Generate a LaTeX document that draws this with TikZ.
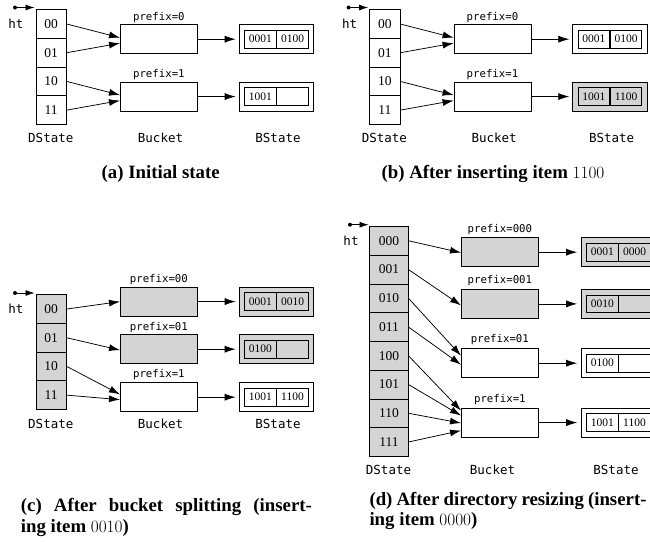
\documentclass[tikz,border=0pt]{standalone}
\usepackage[no-math]{fontspec}
\setmainfont{Liberation Serif}
\setmonofont{DejaVu Sans Mono}
\usetikzlibrary{arrows.meta,calc}
\definecolor{shade}{gray}{0.83}
\tikzset{
 box/.style={draw=black, line width=0.75pt, inner sep=0pt, anchor=north west},
 cellbox/.style={box, minimum width=30.3pt, minimum height=28.7pt, font=\fontsize{13.5}{14}\selectfont},
 wcell/.style={cellbox, minimum width=38.4pt, minimum height=28.75pt},
 bucketbox/.style={box, minimum width=77pt, minimum height=29pt},
 stout/.style={box, minimum width=74.6pt, minimum height=29pt},
 stin/.style={draw=black, line width=0.75pt, inner sep=0pt, minimum width=31.5pt, minimum height=17.7pt, font=\fontsize{11.5}{12}\selectfont},
 shaded/.style={fill=shade},
 pfx/.style={font=\ttfamily\fontsize{10.7}{11}\selectfont, inner sep=0pt},
 mono/.style={font=\ttfamily\fontsize{12.5}{13}\selectfont, inner sep=0pt},
 captext/.style={font=\bfseries\fontsize{18.8}{20}\selectfont, inner sep=0pt},
 arr/.style={-{Latex[length=11pt,width=7pt]}, line width=0.75pt},
 htdot/.style={circle, fill=black, inner sep=0pt, minimum size=4pt},
 htarr/.style={-{Latex[length=9pt,width=6pt]}, line width=0.75pt},
}
\begin{document}
\begin{tikzpicture}[x=1pt,y=-1pt]
\useasboundingbox (0,0) rectangle (650,541);

% ---------------- (a) ----------------
\node[htdot] (ahtS) at (15,7.5) {};
\coordinate (ahtE) at (34.5,7.5);
\draw[htarr] (ahtS.center) -- (ahtE);
\node[mono] (aht) at (16,24) {ht};
\node[cellbox] (a0) at (35.7,9.3) {00};
\node[cellbox] (a1) at (35.7,38) {01};
\node[cellbox] (a2) at (35.7,66.7) {10};
\node[cellbox] (a3) at (35.7,95.4) {11};
\node[bucketbox] (ab1) at (120,24.3) {};
\node[bucketbox] (ab2) at (120,81.7) {};
\node[pfx] (ap1) at ($(ab1.north)+(0,-7)$) {prefix=0};
\node[pfx] (ap2) at ($(ab2.north)+(0,-7.5)$) {prefix=1};
\node[stout] (as1) at (238.7,24.3) {};
\node[stin, anchor=east] (as1a) at (as1.center) {0001};
\node[stin, anchor=west] (as1b) at (as1.center) {0100};
\node[stout] (as2) at (238.7,81.7) {};
\node[stin, anchor=east] (as2a) at (as2.center) {1001};
\node[stin, anchor=west] (as2b) at (as2.center) {};
\draw[arr] (a0.east) -- ($(ab1.west)+(0,-1.5)$);
\draw[arr] (a1.east) -- ($(ab1.west)+(0,4)$);
\draw[arr] (a2.east) -- ($(ab2.west)+(0,-1.5)$);
\draw[arr] (a3.east) -- ($(ab2.west)+(0,4)$);
\draw[arr, shorten >=3pt] (ab1.east) -- (as1.west);
\draw[arr, shorten >=3pt] (ab2.east) -- (as2.west);
\node[mono] (ald) at (50.8,138) {DState};
\node[mono] (alb) at (160.5,138) {Bucket};
\node[mono] (als) at (278,138) {BState};
\node[captext] (acap) at (160.7,174) {(a) Initial state};

% ---------------- (b) ----------------
\begin{scope}[xshift=333.6pt]
\node[htdot] (bhtS) at (15,7.5) {};
\coordinate (bhtE) at (34.5,7.5);
\draw[htarr] (bhtS.center) -- (bhtE);
\node[mono] (bht) at (16,24) {ht};
\node[cellbox] (b0) at (35.7,9.3) {00};
\node[cellbox] (b1) at (35.7,38) {01};
\node[cellbox] (b2) at (35.7,66.7) {10};
\node[cellbox] (b3) at (35.7,95.4) {11};
\node[bucketbox] (bb1) at (120,24.3) {};
\node[bucketbox] (bb2) at (120,81.7) {};
\node[pfx] (bp1) at ($(bb1.north)+(0,-7)$) {prefix=0};
\node[pfx] (bp2) at ($(bb2.north)+(0,-7.5)$) {prefix=1};
\node[stout] (bs1) at (238.7,24.3) {};
\node[stin, anchor=east] (bs1a) at (bs1.center) {0001};
\node[stin, anchor=west] (bs1b) at (bs1.center) {0100};
\node[stout, shaded] (bs2) at (238.7,81.7) {};
\node[stin, shaded, anchor=east] (bs2a) at (bs2.center) {1001};
\node[stin, shaded, anchor=west] (bs2b) at (bs2.center) {1100};
\draw[arr] (b0.east) -- ($(bb1.west)+(0,-1.5)$);
\draw[arr] (b1.east) -- ($(bb1.west)+(0,4)$);
\draw[arr] (b2.east) -- ($(bb2.west)+(0,-1.5)$);
\draw[arr] (b3.east) -- ($(bb2.west)+(0,4)$);
\draw[arr, shorten >=3pt] (bb1.east) -- (bs1.west);
\draw[arr, shorten >=3pt] (bb2.east) -- (bs2.west);
\node[mono] (bld) at (50.8,138) {DState};
\node[mono] (blb) at (160.5,138) {Bucket};
\node[mono] (bls) at (278,138) {BState};
\end{scope}
\node[captext] (bcap) at (493,174) {(b) After inserting item $1100$};

% ---------------- (c) ----------------
\node[htdot] (chtS) at (15,293) {};
\coordinate (chtE) at (34.5,293);
\draw[htarr] (chtS.center) -- (chtE);
\node[mono] (cht) at (16,308.5) {ht};
\node[cellbox, shaded] (c0) at (35.7,294.3) {00};
\node[cellbox, shaded] (c1) at (35.7,323) {01};
\node[cellbox, shaded] (c2) at (35.7,351.7) {10};
\node[cellbox, shaded] (c3) at (35.7,380.4) {11};
\node[bucketbox, shaded] (cb1) at (120,286.7) {};
\node[bucketbox, shaded] (cb2) at (120,334.3) {};
\node[bucketbox] (cb3) at (120,382.3) {};
\node[pfx] (cp1) at ($(cb1.north)+(0,-7.4)$) {prefix=00};
\node[pfx] (cp2) at ($(cb2.north)+(0,-7)$) {prefix=01};
\node[pfx] (cp3) at ($(cb3.north)+(0,-7.3)$) {prefix=1};
\node[stout, shaded] (cs1) at (238.7,286.7) {};
\node[stin, shaded, anchor=east] (cs1a) at (cs1.center) {0001};
\node[stin, shaded, anchor=west] (cs1b) at (cs1.center) {0010};
\node[stout, shaded] (cs2) at (238.7,334.3) {};
\node[stin, shaded, anchor=east] (cs2a) at (cs2.center) {0100};
\node[stin, shaded, anchor=west] (cs2b) at (cs2.center) {};
\node[stout] (cs3) at (238.7,382.3) {};
\node[stin, anchor=east] (cs3a) at (cs3.center) {1001};
\node[stin, anchor=west] (cs3b) at (cs3.center) {1100};
\draw[arr] (c0.east) -- ($(cb1.west)+(0,0)$);
\draw[arr] (c1.east) -- ($(cb2.west)+(0,1)$);
\draw[arr] (c2.east) -- ($(cb3.west)+(0,-2.8)$);
\draw[arr] (c3.east) -- ($(cb3.west)+(0,2.5)$);
\draw[arr, shorten >=3pt] (cb1.east) -- (cs1.west);
\draw[arr, shorten >=3pt] (cb2.east) -- (cs2.west);
\draw[arr, shorten >=3pt] (cb3.east) -- (cs3.west);
\node[mono] (cld) at (50.8,424.3) {DState};
\node[mono] (clb) at (160.5,424.3) {Bucket};
\node[mono] (cls) at (278,424.3) {BState};
\node[captext, anchor=west] (ccap1) at (20.7,507.3) {\makebox[291pt][s]{(c) After bucket splitting (insert-}};
\node[captext, anchor=west] (ccap2) at (20.7,527.7) {ing item $0010$)};

% ---------------- (d) ----------------
\node[htdot] (dhtS) at (350,224.7) {};
\coordinate (dhtE) at (368.5,224.7);
\draw[htarr] (dhtS.center) -- (dhtE);
\node[mono] (dht) at (351,240.7) {ht};
\node[wcell, shaded] (d0) at (369.3,226) {000};
\node[wcell, shaded] (d1) at (369.3,254.75) {001};
\node[wcell, shaded] (d2) at (369.3,283.5) {010};
\node[wcell, shaded] (d3) at (369.3,312.25) {011};
\node[wcell, shaded] (d4) at (369.3,341) {100};
\node[wcell, shaded] (d5) at (369.3,369.75) {101};
\node[wcell, shaded] (d6) at (369.3,398.5) {110};
\node[wcell, shaded] (d7) at (369.3,427.25) {111};
\node[bucketbox, shaded] (db1) at (461,237.3) {};
\node[bucketbox, shaded] (db2) at (461,289) {};
\node[bucketbox] (db3) at (461,348.3) {};
\node[bucketbox] (db4) at (461,407.7) {};
\node[pfx] (dp1) at ($(db1.north)+(0,-7.3)$) {prefix=000};
\node[pfx] (dp2) at ($(db2.north)+(0,-8)$) {prefix=001};
\node[pfx] (dp3) at ($(db3.north)+(0,-8.3)$) {prefix=01};
\node[pfx] (dp4) at ($(db4.north)+(0,-7.7)$) {prefix=1};
\node[stout, shaded] (ds1) at (580.7,237.3) {};
\node[stin, shaded, anchor=east] (ds1a) at (ds1.center) {0001};
\node[stin, shaded, anchor=west] (ds1b) at (ds1.center) {0000};
\node[stout, shaded] (ds2) at (580.7,289) {};
\node[stin, shaded, anchor=east] (ds2a) at (ds2.center) {0010};
\node[stin, shaded, anchor=west] (ds2b) at (ds2.center) {};
\node[stout] (ds3) at (580.7,348.3) {};
\node[stin, anchor=east] (ds3a) at (ds3.center) {0100};
\node[stin, anchor=west] (ds3b) at (ds3.center) {};
\node[stout] (ds4) at (580.7,407.7) {};
\node[stin, anchor=east] (ds4a) at (ds4.center) {1001};
\node[stin, anchor=west] (ds4b) at (ds4.center) {1100};
\draw[arr] (d0.east) -- ($(db1.west)+(0,0.5)$);
\draw[arr] (d1.east) -- ($(db2.west)+(0,1.5)$);
\draw[arr] (d2.east) -- ($(db3.west)+(0,-7.5)$);
\draw[arr] (d3.east) -- ($(db3.west)+(0,1.5)$);
\draw[arr] (d4.east) -- ($(db4.west)+(0,-12)$);
\draw[arr] (d5.east) -- ($(db4.west)+(0,-7)$);
\draw[arr] (d6.east) -- ($(db4.west)+(0,0.5)$);
\draw[arr] (d7.east) -- ($(db4.west)+(0,8)$);
\draw[arr, shorten >=3.5pt] (db1.east) -- (ds1.west);
\draw[arr, shorten >=3.5pt] (db2.east) -- (ds2.west);
\draw[arr, shorten >=3.5pt] (db3.east) -- (ds3.west);
\draw[arr, shorten >=3.5pt] (db4.east) -- (ds4.west);
\node[mono] (dld) at (388.5,470) {DState};
\node[mono] (dlb) at (492.5,470) {Bucket};
\node[mono] (dls) at (616,470) {BState};
\node[captext, anchor=west] (dcap1) at (369.3,500.7) {\makebox[277pt][s]{(d) After directory resizing (insert-}};
\node[captext, anchor=west] (dcap2) at (369.3,521) {ing item $0000$)};
\end{tikzpicture}
\end{document}
